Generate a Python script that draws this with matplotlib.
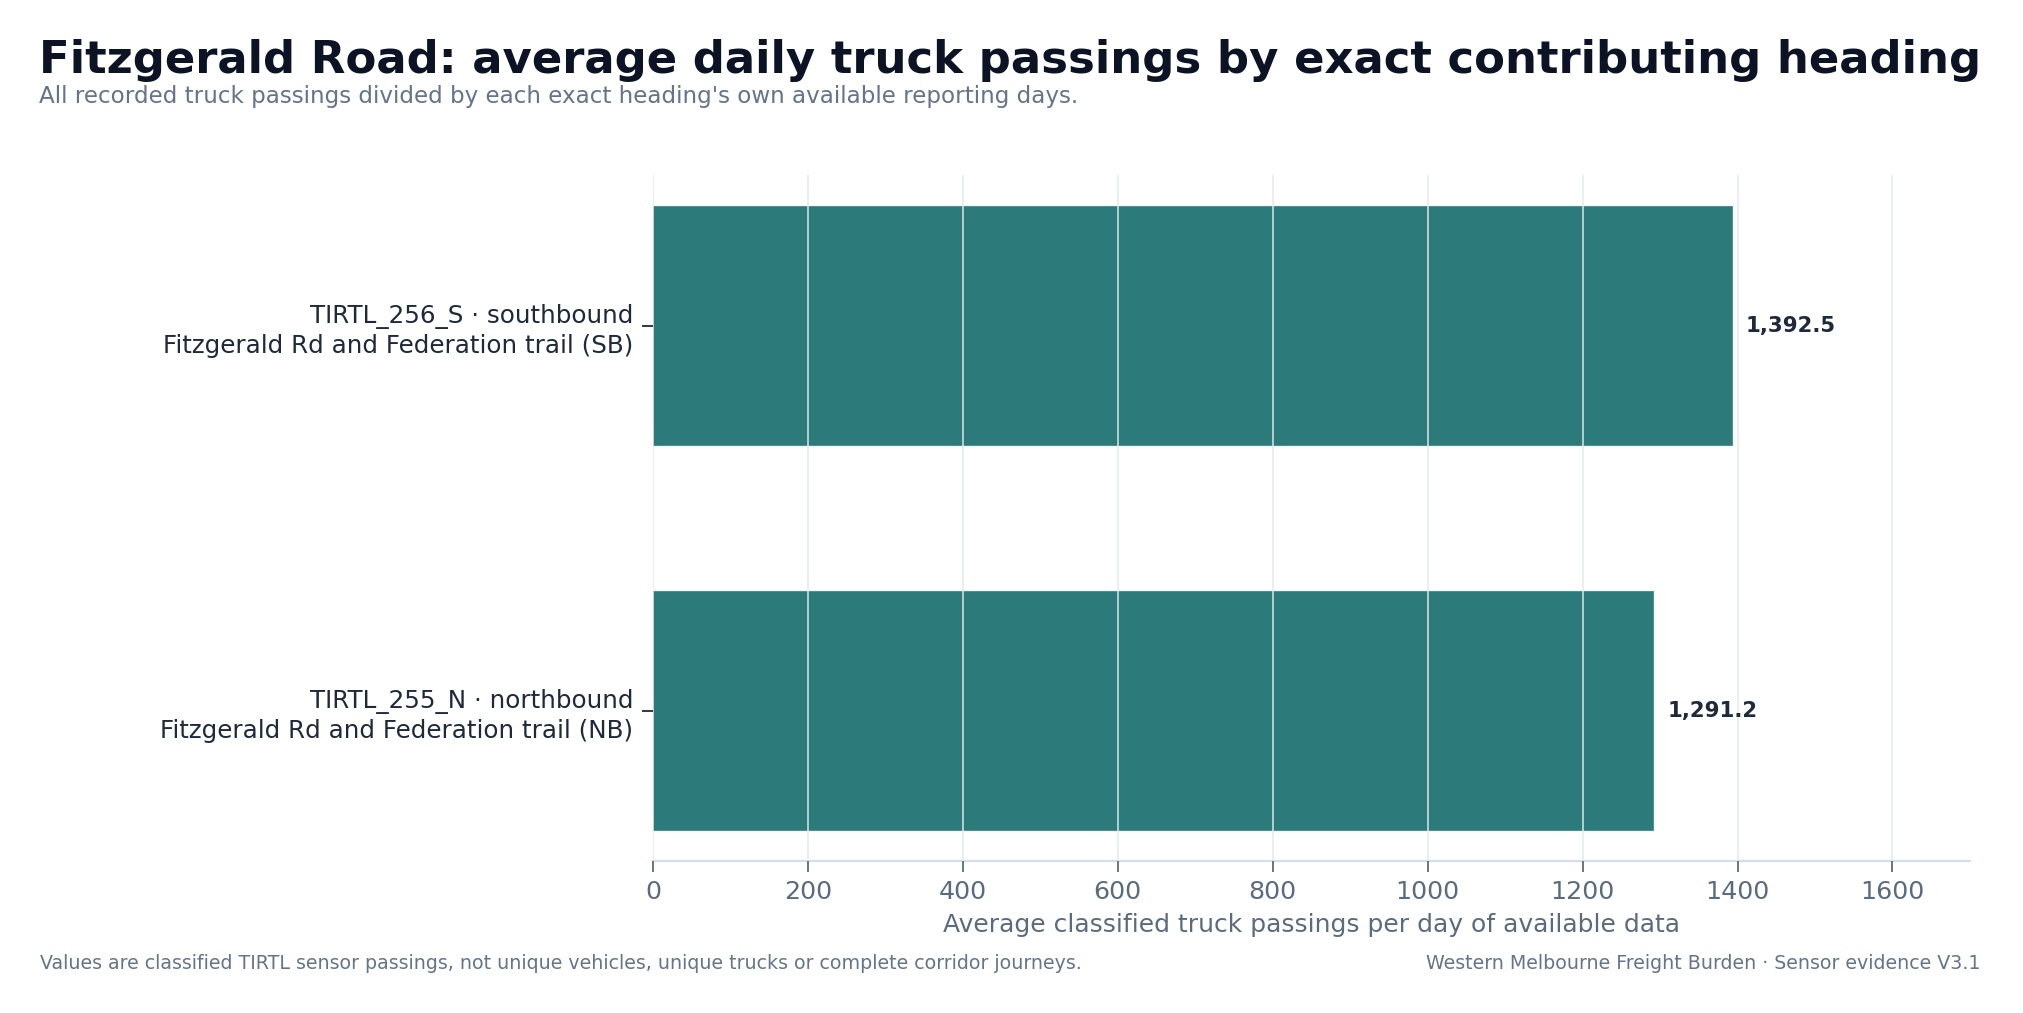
import matplotlib.pyplot as plt

# headings, bottom to top as drawn
labels = [
    "TIRTL_255_N · northbound\nFitzgerald Rd and Federation trail (NB)",
    "TIRTL_256_S · southbound\nFitzgerald Rd and Federation trail (SB)",
]
avg_daily = [1291.2, 1392.5]
xticks = [0, 200, 400, 600, 800, 1000, 1200, 1400, 1600]

teal = "#2d7a7b"
ink = "#0b1324"
slate = "#5b6b7e"
grid_c = "#e2e8f0"

fig = plt.figure(figsize=(20.24, 10.13), dpi=100)
ax = fig.add_axes([0.3226, 0.150, 0.6507, 0.6772])

ypos = list(range(len(labels)))
bars = ax.barh(ypos, avg_daily, height=0.62, color=teal,
               edgecolor="#4f9091", linewidth=0.8, zorder=1)

for y, v in zip(ypos, avg_daily):
    ax.annotate(f"{v:,.1f}", xy=(v, y), xytext=(10, 0), textcoords="offset points",
                va="center", ha="left", fontsize=15.3, fontweight="bold", color="#1e293b")

ax.set_xlim(0, 1700)
ax.set_xticks(xticks)
ax.set_yticks(ypos)
ax.set_yticklabels(labels, fontsize=17.75, color="#1e293b", linespacing=1.3)
ax.tick_params(axis="x", labelsize=18.3, colors=slate, length=8, width=1.3, pad=6)
ax.tick_params(axis="y", length=8, width=1.3, color="#1e293b", pad=6)
ax.xaxis.grid(True, color=grid_c, linewidth=1.3, alpha=0.82, zorder=2)
ax.set_axisbelow(False)
for b in bars:
    b.set_zorder(1)

for s in ["top", "right", "left"]:
    ax.spines[s].set_visible(False)
ax.spines["bottom"].set_color("#d5dde5")
ax.spines["bottom"].set_linewidth(1.6)

ax.set_xlabel("Average classified truck passings per day of available data",
              fontsize=18, color=slate, labelpad=6)

fig.text(0.0193, 0.928, "Fitzgerald Road: average daily truck passings by exact contributing heading",
         fontsize=32.4, fontweight="bold", color=ink, ha="left", va="baseline")
fig.text(0.0193, 0.898, "All recorded truck passings divided by each exact heading's own available reporting days.",
         fontsize=16.6, color="#64748b", ha="left", va="baseline")
fig.text(0.0198, 0.0434, "Values are classified TIRTL sensor passings, not unique vehicles, unique trucks or complete corridor journeys.",
         fontsize=13.7, color="#64748b", ha="left", va="baseline")
fig.text(0.9783, 0.0434, "Western Melbourne Freight Burden · Sensor evidence V3.1",
         fontsize=13.7, color="#64748b", ha="right", va="baseline")

fig.savefig("out.png", dpi=100)
